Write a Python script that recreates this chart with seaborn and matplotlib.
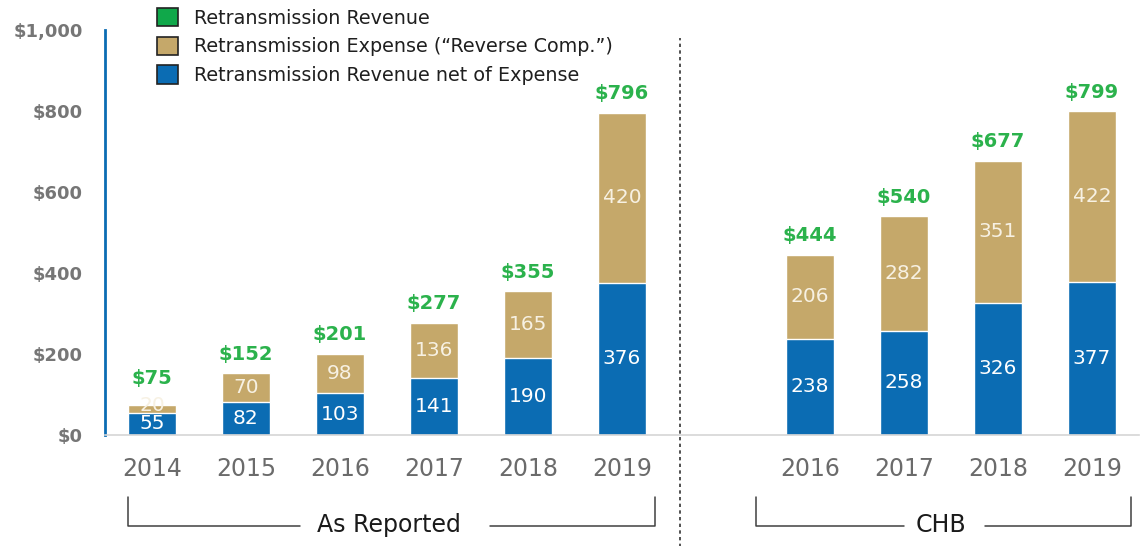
import numpy as np
import pandas as pd
import matplotlib
matplotlib.use("Agg")
import matplotlib.pyplot as plt
import seaborn as sns
from matplotlib.patches import Patch
from matplotlib.transforms import blended_transform_factory

# ---- data ----
slots = ["AR2014", "AR2015", "AR2016", "AR2017", "AR2018", "AR2019", "gap",
         "CHB2016", "CHB2017", "CHB2018", "CHB2019"]
years = ["2014", "2015", "2016", "2017", "2018", "2019", "",
         "2016", "2017", "2018", "2019"]
bar_keys = ["AR2014", "AR2015", "AR2016", "AR2017", "AR2018", "AR2019",
            "CHB2016", "CHB2017", "CHB2018", "CHB2019"]
net_revenue = [55, 82, 103, 141, 190, 376, 238, 258, 326, 377]
expense = [20, 70, 98, 136, 165, 420, 206, 282, 351, 422]
totals = [75, 152, 201, 277, 355, 796, 444, 540, 677, 799]
yticks = [0, 200, 400, 600, 800, 1000]
ytick_labels = ["$0", "$200", "$400", "$600", "$800", "$1,000"]
legend_labels = ["Retransmission Revenue",
                 "Retransmission Expense (\u201cReverse Comp.\u201d)",
                 "Retransmission Revenue net of Expense"]

BLUE = "#0b6cb3"
GOLD = "#c5a86a"
GREEN = "#2bb24c"
LEG_GREEN = "#10a84a"
GREY = "#6b6b6b"

df = pd.DataFrame({"slot": bar_keys, "net": net_revenue, "exp": expense,
                   "total": [n + e for n, e in zip(net_revenue, expense)]})

sns.set_style("white")
fig = plt.figure(figsize=(11.47, 5.46), dpi=100)
ax = fig.add_axes([105 / 1147, 111 / 546, (1139 - 105) / 1147, 405 / 546])

sns.barplot(data=df, x="slot", y="total", order=slots, color=GOLD,
            saturation=1, width=0.52, ax=ax, errorbar=None)
sns.barplot(data=df, x="slot", y="net", order=slots, color=BLUE,
            saturation=1, width=0.52, ax=ax, errorbar=None)

gold_bars = ax.containers[0]
blue_bars = ax.containers[1]
for i, (gp, bp) in enumerate(zip(gold_bars, blue_bars)):
    xc = bp.get_x() + bp.get_width() / 2
    n, e, t = net_revenue[i], expense[i], totals[i]
    ax.text(xc, n / 2, f"{n}", ha="center", va="center", color="white",
            fontsize=14.5)
    e_room = max(e, 38)
    ax.text(xc, n + e_room / 2, f"{e}", ha="center", va="center", color="#f7f1e3",
            fontsize=14.5)
    ax.text(xc, n + e_room + 24, f"${t}", ha="center", va="bottom", color=GREEN,
            fontsize=14, fontweight="bold")

ax.set_xlim(-0.5, 10.5)
ax.set_ylim(0, 1000)
ax.set_yticks(yticks)
ax.set_yticklabels(ytick_labels, fontsize=13, fontweight="bold", color="#767676")
ax.set_xticks(range(len(slots)))
ax.set_xticklabels(years, fontsize=17, color=GREY)
ax.set_xticks(np.arange(-0.5, 10.6, 1), minor=True)
ax.tick_params(axis="x", which="major", length=0, pad=16)
ax.tick_params(axis="x", which="minor", length=7, color="#d0d0d0", direction="out")
ax.tick_params(axis="y", length=5, color=BLUE, width=2, direction="out", pad=11)
ax.set_xlabel("")
ax.set_ylabel("")
for s in ["top", "right"]:
    ax.spines[s].set_visible(False)
ax.spines["left"].set_color(BLUE)
ax.spines["left"].set_linewidth(2)
ax.spines["bottom"].set_color("#d6d6d6")
ax.spines["bottom"].set_linewidth(1.2)

tr = blended_transform_factory(ax.transData, ax.transAxes)
# divider
ax.plot([5.62, 5.62], [-0.28, 0.98], transform=tr, ls=(0, (2, 2)), lw=1.2,
        color="#333333", clip_on=False)

# brackets
def bracket(x0, x1, g0, g1, text, xt):
    yb, yt = -0.225, -0.153
    kw = dict(transform=tr, color="#404040", lw=1.1, clip_on=False)
    ax.plot([x0, x0, g0], [yt, yb, yb], **kw)
    ax.plot([g1, x1, x1], [yb, yb, yt], **kw)
    ax.text(xt, yb + 0.004, text, transform=tr, ha="center", va="center",
            fontsize=17, color="#1a1a1a")

bracket(-0.255, 5.35, 1.57, 3.6, "As Reported", 2.52)
bracket(6.43, 10.41, 8.0, 8.86, "CHB", 8.39)

handles = [Patch(facecolor=c, edgecolor="#222222", linewidth=1.2)
           for c in [LEG_GREEN, GOLD, BLUE]]
fig.legend(handles, legend_labels, loc="upper left",
           bbox_to_anchor=(157 / 1147, 1 - 8 / 546), frameon=False,
           fontsize=13.8, handlelength=1.1, handleheight=1.1, labelspacing=0.47,
           handletextpad=0.85, borderpad=0, borderaxespad=0,
           labelcolor="#1f1f1f")

fig.savefig("out.png", dpi=100)
